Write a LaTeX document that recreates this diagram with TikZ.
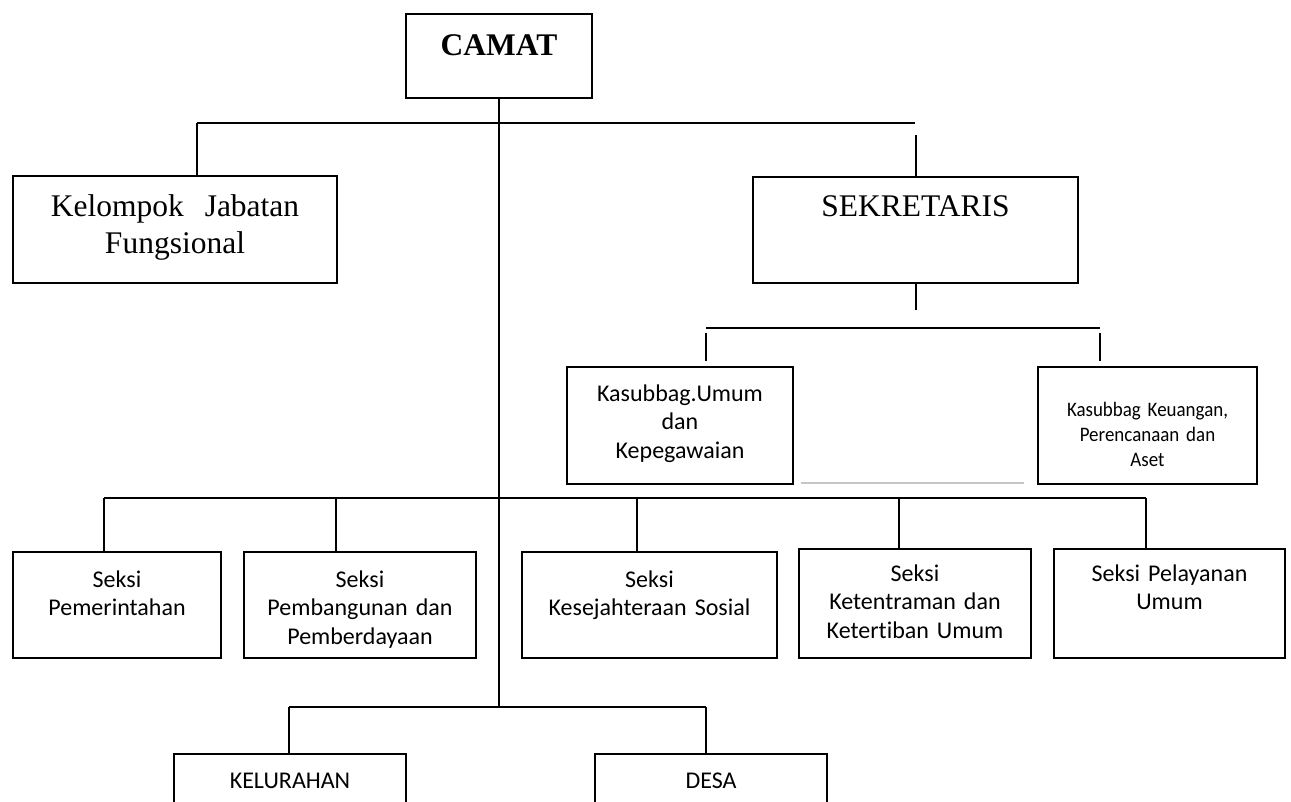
\documentclass[tikz,border=0pt]{standalone}
\usepackage{fontspec}
\setmainfont{Liberation Serif}
\newfontfamily\calibri[Ligatures=NoCommon]{Carlito}
\newfontfamily\calibrinarrow[Ligatures=NoCommon, FakeStretch=0.92]{Carlito}
\usetikzlibrary{positioning}

\tikzset{
  unit/.style={draw, line width=1pt, inner sep=0pt, anchor=north west, align=center},
  link/.style={line width=1pt},
  head/.style={font=\fontsize{15.75}{18.5}\selectfont},
  sans/.style={font=\calibri\fontsize{12}{14.25}\selectfont},
}

\begin{document}
\begin{tikzpicture}[x=0.5pt, y=-0.5pt]
\useasboundingbox (0,0) rectangle (1291,802);
\clip (0,0) rectangle (1291,802);

% pimpinan
\node[unit, head, text width=93pt, text height=21pt, text depth=21pt] (camat) at (405,13) {\bfseries CAMAT};
\node[unit, head, text width=162pt, text height=20.5pt, text depth=33pt] (kjf) at (12,175) {Kelompok\ \ Jabatan\\Fungsional};
\node[unit, head, text width=162.5pt, text height=20pt, text depth=33pt] (sek) at (752,176) {SEKRETARIS};

% subbagian
\node[unit, sans, text width=113pt, text height=17pt, text depth=41.5pt] (umum) at (566,366) {Kasubbag.Umum\\dan\\Kepegawaian};
\node[unit, font=\calibrinarrow\fontsize{10.3}{12.5}\selectfont, text width=109.5pt, text height=24.5pt, text depth=34pt] (keu) at (1037,366) {Kasubbag Keuangan,\\Perencanaan dan\\Aset};

% seksi
\node[unit, sans, text width=104pt, text height=17.5pt, text depth=35.5pt] (s1) at (12,551) {Seksi\\Pemerintahan};
\node[unit, sans, text width=116pt, text height=17.5pt, text depth=35.5pt] (s2) at (243,551) {Seksi\\Pembangunan dan\\Pemberdayaan};
\node[unit, sans, text width=127.5pt, text height=17.5pt, text depth=35.5pt] (s3) at (521,551) {Seksi\\Kesejahteraan Sosial};
\node[unit, sans, text width=116pt, text height=16pt, text depth=38.5pt] (s4) at (798,548) {Seksi\\Ketentraman dan\\Ketertiban Umum};
\node[unit, sans, text width=115.5pt, text height=16pt, text depth=38.5pt] (s5) at (1053,548) {Seksi Pelayanan\\Umum};

% kelurahan / desa
\node[unit, sans, text width=116pt, text height=17pt, text depth=40pt] (kel) at (173,753) {KELURAHAN};
\node[unit, sans, text width=116pt, text height=17pt, text depth=40pt] (desa) at (594,753) {DESA};

% garis dari camat
\coordinate (jl) at (197,123);
\coordinate (jr) at (915,123);
\draw[link] (jl) -- (jr);
\draw[link] (jl) -- (jl |- kjf.north);
\draw[link] (sek.north) -- ++(0,-41);

% garis sekretaris
\coordinate (sl) at (706,328);
\coordinate (sr) at (1100,328);
\draw[link] (sek.south) -- ++(0,26);
\draw[link] (sl) -- (sr);
\draw[link] (sl) ++(0,5) -- ++(0,28);
\draw[link] (sr) ++(0,5) -- ++(0,28);
\draw[gray!45, line width=0.6pt] (801,483) -- (1024,483);

% garis seksi
\coordinate (bl) at (104,498);
\coordinate (br) at (1146,498);
\draw[link] (bl) -- (br);
\foreach \n/\x in {s1/104, s2/336, s3/637, s4/899, s5/1146}
{
    \coordinate (t\n) at (\x,498);
    \draw[link] (t\n) -- (t\n |- \n.north);
}

% garis kelurahan dan desa
\coordinate (kl) at (289,707);
\coordinate (kr) at (706,707);
\draw[link] (camat.south) -- (camat.south |- kl);
\draw[link] (kl) -- (kr);
\draw[link] (kl) -- (kl |- kel.north);
\draw[link] (kr) -- (kr |- desa.north);
\end{tikzpicture}
\end{document}
